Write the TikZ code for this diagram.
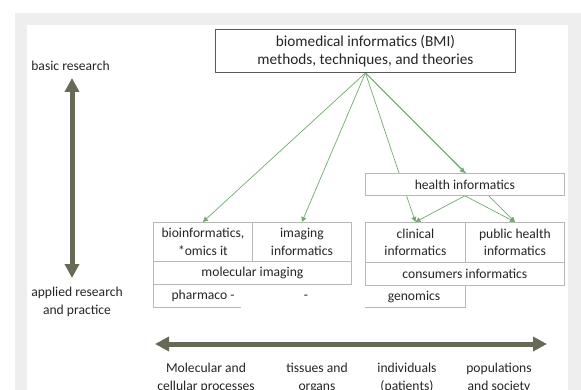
\documentclass[tikz,border=0pt]{standalone}
\usepackage{fontspec}
\setmainfont{Carlito}
\usetikzlibrary{arrows.meta}
\pgfdeclarelayer{back}
\pgfdeclarelayer{bg}
\pgfsetlayers{back,bg,main}
\definecolor{framegray}{HTML}{EEEEEE}
\definecolor{boxgray}{HTML}{B8B8B8}
\definecolor{darkbox}{HTML}{5A5A5A}
\definecolor{linkgreen}{HTML}{70AD6F}
\definecolor{olive}{HTML}{676A55}
\definecolor{txt}{HTML}{262626}
\begin{document}
\begin{tikzpicture}[x=1pt,y=-1pt,
  every node/.style={font=\fontsize{13.6}{17.5}\selectfont, text=txt, align=center},
  box/.style={draw=boxgray, fill=white, line width=0.8pt, inner sep=0pt, anchor=north west},
  topbox/.style={draw=darkbox, fill=white, line width=0.9pt, inner sep=0pt, anchor=north west,
    font=\fontsize{15.3}{18.5}\selectfont},
  link/.style={draw=linkgreen, line width=0.7pt, -{Triangle[length=5pt,width=5pt]}},
  bigarrow/.style={draw=olive, line width=5pt, {Triangle[length=14pt,width=14pt]}-{Triangle[length=14pt,width=14pt]}},
  openbox/.style={draw=boxgray, line width=0.8pt}
]
\useasboundingbox (0,0) rectangle (581,390);
\begin{pgfonlayer}{back}
  \fill[white] (0,0) rectangle (581,390);
  \fill[framegray] (15,13) rectangle (581,390);
  \fill[white] (27,25) rectangle (568,390);
\end{pgfonlayer}

% top box
\node[topbox, minimum width=300pt, minimum height=43pt] (bmi) at (215,29)
  {biomedical informatics (BMI)\\methods, techniques, and theories};

% health informatics
\node[box, minimum width=199pt, minimum height=22pt] (health) at (365,173) {health informatics};

% left group
\node[box, minimum width=99pt, minimum height=39pt] (bio) at (153,222) {bioinformatics,\\*omics it};
\node[box, minimum width=99pt, minimum height=39pt] (imaging) at (252,222) {imaging\\informatics};
\node[box, minimum width=198pt, minimum height=23pt] (molimg) at (153,261) {molecular imaging};
\node (pharm) at (203,296) {pharmaco -};
\node (dash) at (306,297) {-};
\coordinate (pa) at (153,284);
\coordinate (pb) at (153,307);
\coordinate (pc) at (241,307);
\draw[openbox] (pa) -- (pb) -- (pc);

% right group
\node[box, minimum width=100pt, minimum height=40pt] (clin) at (365,222) {clinical\\informatics};
\node[box, minimum width=99pt, minimum height=40pt] (pub) at (465,222) {public health\\informatics};
\node[box, minimum width=199pt, minimum height=23pt] (cons) at (365,262) {consumers informatics};
\node (gen) at (414,297) {genomics};
\coordinate (ga) at (365,307);
\coordinate (gb) at (465,307);
\coordinate (gc) at (465,285);
\draw[openbox] (ga) -- (gb) -- (gc);

% links
\begin{pgfonlayer}{bg}
  \draw[link] (bmi.south) -- (bio.north);
  \draw[link] (bmi.south) -- (imaging.north);
  \draw[link] (bmi.south) -- (clin.north);
  \draw[link] (bmi.south) -- (pub.north);
  \draw[link] (bmi.south) -- (health.north);
  \draw[link] (health.south) -- (clin.north);
  \draw[link] (health.south) -- (pub.north);
\end{pgfonlayer}

% vertical axis
\node (basic) at (70.5,66) {basic research};
\node (applied) at (77,302) {applied research\\and practice};
\coordinate (vtop) at (72,78);
\coordinate (vbot) at (72,278);
\draw[bigarrow] (vbot) -- (vtop);

% horizontal axis
\coordinate (hl) at (155,344);
\coordinate (hr) at (547,344);
\draw[bigarrow] (hl) -- (hr);
\node (l1) at (206,378) {Molecular and\\cellular processes};
\node (l2) at (317,378) {tissues and\\organs};
\node (l3) at (407,378) {individuals\\(patients)};
\node (l4) at (499,378) {populations\\and society};
\end{tikzpicture}
\end{document}
